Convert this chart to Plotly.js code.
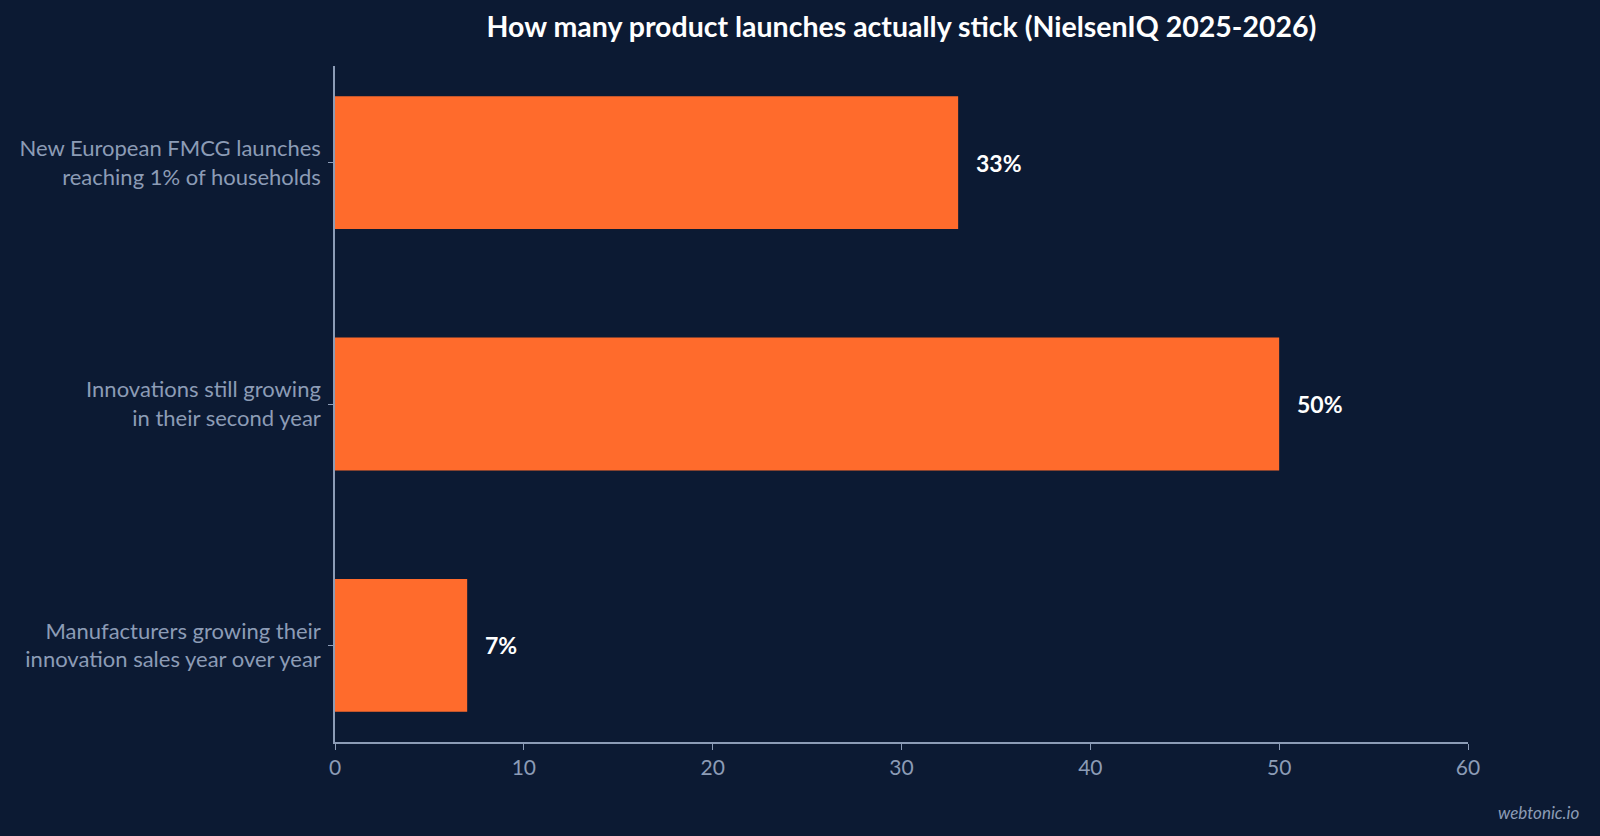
<!DOCTYPE html>
<html>
<head>
<meta charset="utf-8">
<script src="https://cdn.plot.ly/plotly-3.0.1.min.js"></script>
<style>
  html, body { margin: 0; padding: 0; background: #0c1a33; }
  #chart { width: 1600px; height: 836px; }
</style>
</head>
<body>
<div id="chart"></div>
<script>
// Product launch survival rates
var categories = [
  'Manufacturers growing their<br>innovation sales year over year',
  'Innovations still growing<br>in their second year',
  'New European FMCG launches<br>reaching 1% of households'
];
var shares = [7, 50, 33];
var xTicks = [0, 10, 20, 30, 40, 50, 60];

var bg = '#0c1a33';
var orange = '#ff6b2c';
var muted = '#8c9cb6';

var trace = {
  type: 'bar',
  orientation: 'h',
  x: shares,
  y: categories,
  width: 0.55,
  marker: {color: orange},
  hoverinfo: 'x+y',
};

// value labels just past the end of each bar
var labels = [];
for (let i = 0; i < shares.length; i++) {
  labels.push({
    x: shares[i], y: categories[i],
    xref: 'x', yref: 'y',
    text: '<b>' + shares[i] + '%</b>',
    showarrow: false,
    xanchor: 'left', xshift: 16,
    font: {family: 'Lato', size: 23, color: '#ffffff'},
  });
}
labels.push({
  xref: 'paper', yref: 'paper',
  x: 1.1, y: -0.105,
  xanchor: 'right', yanchor: 'middle',
  text: '<i>webtonic.io</i>',
  showarrow: false,
  font: {family: 'Lato', size: 17, color: muted},
});

var layout = {
  paper_bgcolor: bg,
  plot_bgcolor: bg,
  showlegend: false,
  margin: {t: 66, r: 132, l: 335, b: 94},
  title: {
    text: '<b>How many product launches actually stick (NielsenIQ 2025-2026)</b>',
    font: {family: 'Lato', size: 28.5, color: '#ffffff'},
    x: 0.5, xref: 'paper',
    y: 0.968, yref: 'container', yanchor: 'middle',
  },
  xaxis: {
    range: [0, 60],
    tickvals: xTicks,
    showgrid: false,
    zeroline: false,
    showline: true,
    linecolor: muted,
    linewidth: 1.5,
    ticks: 'outside',
    ticklen: 6,
    tickcolor: muted,
    tickfont: {family: 'Lato', size: 21, color: muted},
    fixedrange: true,
  },
  yaxis: {
    type: 'category',
    range: [-0.4, 2.4],
    showgrid: false,
    zeroline: false,
    showline: true,
    linecolor: muted,
    linewidth: 1.5,
    ticks: 'outside',
    ticklen: 5,
    tickcolor: muted,
    ticklabelstandoff: 3,
    tickfont: {family: 'Lato', size: 22, color: muted},
    fixedrange: true,
  },
  annotations: labels,
};

Plotly.newPlot('chart', [trace], layout, {displayModeBar: false, responsive: false});
</script>
</body>
</html>
